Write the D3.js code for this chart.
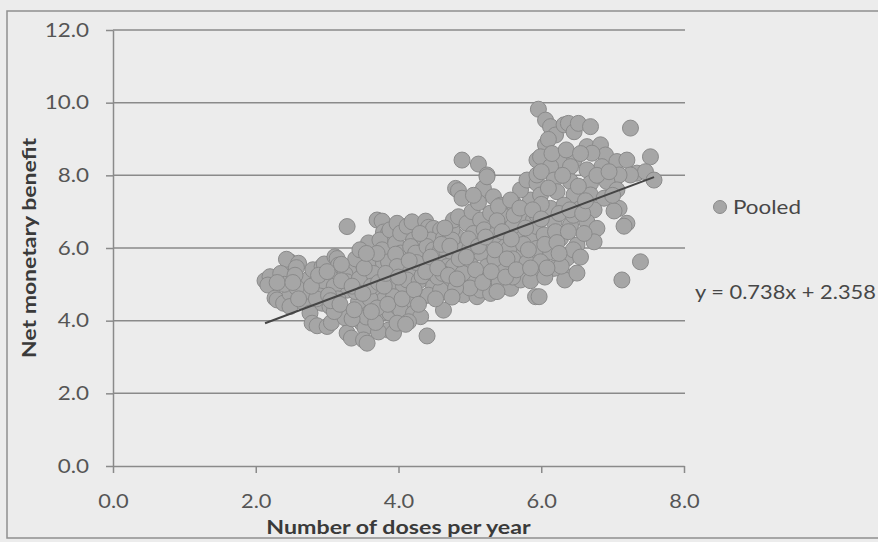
<!DOCTYPE html>
<html>
<head>
<meta charset="utf-8">
<script src="https://cdn.jsdelivr.net/npm/d3@7"></script>
<style>
  html, body { margin: 0; padding: 0; background: #ececec; }
  svg { display: block; }
</style>
</head>
<body>
<script>
// ---- Data ----
const doses = [
  2.13,2.20,2.17,2.27,2.30,2.39,2.48,2.43,2.60,2.57,
  2.48,2.48,2.62,2.69,2.74,2.72,2.66,2.76,2.79,2.86,
  2.80,2.93,2.96,2.90,2.93,3.11,3.14,3.16,3.04,3.04,
  3.00,3.06,3.28,3.30,3.25,3.28,3.28,3.22,3.25,3.28,
  3.34,3.46,3.44,3.49,3.53,3.51,3.56,3.56,3.58,3.58,
  3.70,3.77,3.79,3.86,3.74,3.77,3.67,3.79,3.86,3.88,
  3.74,3.79,3.74,3.88,3.86,3.72,3.93,
  2.35,2.55,2.65,2.85,2.95,3.10,3.15,3.10,3.40,3.45,
  3.40,3.60,3.55,3.65,3.46,3.62,3.68,2.57,3.02,3.35,
  3.70,2.40,3.20,
  3.88,3.96,3.98,4.03,4.12,4.19,4.38,4.42,4.49,4.59,
  4.21,4.45,4.63,4.82,4.03,3.96,4.17,4.24,4.40,4.49,
  4.59,4.68,3.98,4.17,4.35,4.59,4.68,4.77,3.93,4.07,
  4.12,4.29,4.33,4.49,4.49,4.68,4.87,3.93,3.98,4.17,
  4.33,4.42,4.59,4.03,4.21,4.31,4.63,3.98,4.14,4.10,
  4.40,4.75,4.75,4.77,4.84,4.96,4.80,4.84,4.89,4.89,
  5.12,5.24,5.19,5.03,5.15,5.10,4.91,5.15,5.01,4.91,
  5.05,5.10,5.15,5.24,5.29,5.29,5.29,5.29,5.33,5.43,
  5.47,5.43,5.47,5.47,5.41,5.50,5.57,5.61,5.66,5.66,
  5.71,5.71,5.71,5.85,5.85,5.89,5.90,5.90,5.85,5.92,
  5.40,5.24,5.71,5.57,5.80,5.94,5.94,
  4.25,4.55,4.60,4.90,5.00,5.05,5.20,5.20,5.35,5.40,
  5.55,5.60,5.60,5.75,5.80,5.00,4.80,5.38,4.75,4.30,
  4.62,4.85,5.12,5.35,5.60,
  5.96,6.06,6.13,6.20,6.32,6.38,6.46,6.52,6.69,7.25,
  6.06,6.10,5.99,6.64,6.83,6.90,6.71,6.46,6.25,6.13,
  7.06,7.20,7.53,7.34,7.46,7.58,7.25,7.09,6.85,6.64,
  6.41,5.94,6.00,6.18,6.41,6.69,6.92,7.06,5.99,6.22,
  6.46,6.69,6.88,7.09,7.02,7.20,7.16,6.13,6.32,6.55,
  6.74,5.94,5.94,6.18,6.41,6.64,6.78,6.04,6.27,6.50,
  6.74,6.60,5.94,6.13,6.36,5.99,6.18,6.36,6.33,6.50,
  6.05,7.39,7.13,5.97,
  6.30,6.00,6.25,6.45,6.20,6.45,6.05,6.28,6.55,
  2.30,2.52,2.60,2.78,2.88,3.00,3.05,3.18,3.20,3.35,
  3.38,3.50,3.52,3.62,3.72,3.80,3.82,3.85,3.70,3.55,
  4.00,4.05,4.15,4.22,4.28,4.38,4.45,4.52,4.55,4.65,
  4.70,4.72,4.82,4.95,4.98,5.08,5.12,5.18,5.22,5.30,
  5.35,5.38,5.45,5.50,5.52,5.58,5.62,5.65,5.70,5.78,
  5.82,5.85,5.88,5.05,
  6.00,6.08,6.10,6.15,6.22,6.25,6.35,6.38,6.40,6.52,
  6.55,6.58,6.62,6.78,6.95,7.00
];
const benefit = [
  5.10,5.21,4.98,4.62,4.57,4.48,5.62,5.69,5.58,5.46,
  4.75,4.39,5.04,5.03,5.14,4.48,4.52,4.21,3.93,3.86,
  5.40,5.49,5.56,4.84,4.48,5.76,5.71,5.53,5.21,4.39,
  3.84,3.95,6.59,5.40,5.28,5.07,4.84,4.25,4.08,3.66,
  3.52,4.38,4.52,3.93,3.81,3.47,3.38,5.12,5.67,6.14,
  6.77,6.74,6.44,6.41,6.22,5.95,5.59,5.58,5.62,5.12,
  4.84,4.57,4.20,4.21,3.74,3.69,3.66,
  5.30,5.25,4.75,4.60,5.10,4.95,4.60,4.25,5.70,5.15,
  4.80,4.60,4.10,5.30,5.95,4.95,3.95,4.92,4.70,4.05,
  4.35,5.00,5.55,
  6.50,6.13,6.68,6.41,6.60,6.72,6.74,6.57,6.54,6.50,
  6.22,6.22,6.27,6.31,5.86,5.83,6.04,5.86,6.04,5.95,
  5.95,5.86,5.49,5.35,5.49,5.58,5.49,5.49,4.94,4.94,
  5.12,5.10,5.23,4.94,5.31,5.12,5.03,4.66,4.39,4.57,
  4.64,4.70,4.84,4.29,4.20,4.11,4.29,3.93,3.97,3.90,
  3.58,6.50,6.22,6.77,6.86,6.68,7.64,7.58,7.37,8.42,
  8.31,8.01,7.64,7.00,6.77,6.22,5.95,5.86,5.53,4.71,
  5.12,4.66,4.84,5.49,5.03,4.75,6.13,6.96,7.41,7.18,
  6.22,5.86,5.49,4.94,5.06,6.86,4.89,7.23,6.41,5.86,
  6.86,5.49,5.12,7.32,6.31,6.77,5.86,5.31,5.10,4.66,
  7.14,7.96,7.60,7.32,7.87,7.78,8.42,
  5.60,5.20,6.10,5.30,6.00,6.40,6.50,5.20,5.70,6.60,
  6.00,5.70,5.20,6.10,5.60,4.90,4.90,4.80,4.65,6.40,
  5.30,5.70,7.25,6.35,6.60,
  9.82,9.52,9.34,9.11,9.39,9.43,9.20,9.43,9.34,9.30,
  8.84,8.99,8.51,8.79,8.84,8.56,8.61,8.42,8.42,8.24,
  8.38,8.42,8.51,8.06,8.10,7.87,8.01,8.01,8.24,8.15,
  8.24,8.01,8.10,7.87,7.83,7.78,7.83,7.60,7.46,7.55,
  7.46,7.46,7.37,7.09,7.02,6.68,6.60,7.09,7.18,7.09,
  7.05,6.91,6.59,6.72,6.63,6.72,6.54,6.36,6.27,6.08,
  6.17,6.40,5.99,5.90,5.72,5.62,5.44,5.21,5.12,5.31,
  5.20,5.62,5.12,4.66,
  8.00,7.20,6.95,6.90,6.45,5.95,6.10,5.50,5.75,
  5.05,5.05,4.60,4.95,5.25,5.35,4.55,4.45,5.10,4.95,
  4.30,4.75,5.45,4.25,5.05,4.95,5.30,4.45,5.85,5.85,
  5.20,4.60,5.65,4.85,4.45,5.35,5.75,4.60,5.45,6.55,
  5.25,6.05,5.15,5.75,6.25,5.40,6.05,5.05,6.30,5.35,
  5.95,6.75,6.45,5.20,5.70,6.25,6.90,5.40,7.10,6.55,
  5.95,5.45,7.05,7.45,
  6.80,5.45,7.65,8.60,6.15,5.85,8.70,6.45,7.05,7.70,
  8.60,6.95,7.30,8.00,8.10,7.45
];
const xTicks = [0, 2, 4, 6, 8];
const yTicks = [0, 2, 4, 6, 8, 10, 12];
const seriesName = "Pooled";
const trendSlope = 0.738;
const trendIntercept = 2.358;
const equationLabel = "y = 0.738x + 2.358";
const xTitle = "Number of doses per year";
const yTitle = "Net monetary benefit";

// ---- Drawing ----
const W = 878, H = 542;
const STRETCH = 1.18;
const FONT = "Lato, 'Open Sans', sans-serif";
const GRID = "#8a8a8a";

const svg = d3.select("body").append("svg").attr("width", W).attr("height", H);
svg.append("rect").attr("width", W).attr("height", H).attr("fill", "#ececec");
svg.append("rect").attr("x", 7).attr("y", 11).attr("width", 900).attr("height", 527)
  .attr("fill", "none").attr("stroke", "#8f8f8f").attr("stroke-width", 1.5);

const x = d3.scaleLinear().domain([0, 8]).range([113, 684]);
const y = d3.scaleLinear().domain([0, 12]).range([466, 30]);

function stretch(sel, f) {
  sel.each(function () {
    const L = this.getComputedTextLength();
    d3.select(this).attr("textLength", L * f).attr("lengthAdjust", "spacingAndGlyphs");
  });
}

// gridlines
svg.append("g").selectAll("line").data(yTicks.filter(d => d > 0)).join("line")
  .attr("x1", x(0)).attr("x2", x(8) + 1)
  .attr("y1", d => y(d)).attr("y2", d => y(d))
  .attr("stroke", GRID).attr("stroke-width", 1.5);

// y axis
const gy = svg.append("g").attr("transform", `translate(${x(0)},0)`)
  .call(d3.axisLeft(y).tickValues(yTicks).tickFormat(d => d.toFixed(1))
    .tickSize(7).tickPadding(17).tickSizeOuter(0));
gy.select(".domain").attr("stroke", GRID).attr("stroke-width", 1.5);
gy.selectAll(".tick line").attr("stroke", GRID).attr("stroke-width", 1.5);
gy.selectAll("text").attr("font-family", FONT).attr("font-size", 19).attr("fill", "#555");

// x axis
const gx = svg.append("g").attr("transform", `translate(0,${y(0)})`)
  .call(d3.axisBottom(x).tickValues(xTicks).tickFormat(d => d.toFixed(1))
    .tickSize(7).tickPadding(22).tickSizeOuter(0));
gx.select(".domain").attr("stroke", GRID).attr("stroke-width", 1.5);
gx.selectAll(".tick line").attr("stroke", GRID).attr("stroke-width", 1.5);
gx.selectAll("text").attr("font-family", FONT).attr("font-size", 18.5).attr("fill", "#555");

// points
const pts = doses.map((d, i) => ({ x: d, y: benefit[i] }));
svg.append("g").selectAll("circle").data(pts).join("circle")
  .attr("cx", d => x(d.x)).attr("cy", d => y(d.y)).attr("r", 8)
  .attr("fill", "#a6a6a6").attr("stroke", "#8a8a8a").attr("stroke-width", 1);

// trend line
const xr = d3.extent(doses);
svg.append("path")
  .datum(xr.map(v => ({ x: v, y: trendSlope * v + trendIntercept })))
  .attr("d", d3.line().x(d => x(d.x)).y(d => y(d.y)))
  .attr("stroke", "#454545").attr("stroke-width", 2).attr("fill", "none");

// legend
svg.append("circle").attr("cx", 720).attr("cy", 207).attr("r", 6.5)
  .attr("fill", "#a6a6a6").attr("stroke", "#8a8a8a");
const legText = svg.append("text").attr("x", 733).attr("y", 214)
  .attr("font-family", FONT).attr("font-size", 19).attr("fill", "#474747").text(seriesName);

// equation
const eqText = svg.append("text").attr("x", 695).attr("y", 299)
  .attr("font-family", FONT).attr("font-size", 18.5).attr("fill", "#474747").text(equationLabel);

// axis titles
const xt = svg.append("text").attr("x", (x(0) + x(8)) / 2).attr("y", 534)
  .attr("text-anchor", "middle").attr("font-family", FONT).attr("font-weight", "bold")
  .attr("font-size", 19).attr("fill", "#3a3a3a").text(xTitle);
const yt = svg.append("text").attr("transform", `translate(36,${(y(0) + y(12)) / 2}) rotate(-90)`)
  .attr("text-anchor", "middle").attr("font-family", FONT).attr("font-weight", "bold")
  .attr("font-size", 19.5).attr("fill", "#3a3a3a").text(yTitle);

stretch(gy.selectAll("text"), STRETCH);
stretch(gx.selectAll("text"), STRETCH);
stretch(legText, STRETCH);
stretch(eqText, STRETCH);
stretch(xt, 1.22);
stretch(yt, STRETCH);
</script>
</body>
</html>
